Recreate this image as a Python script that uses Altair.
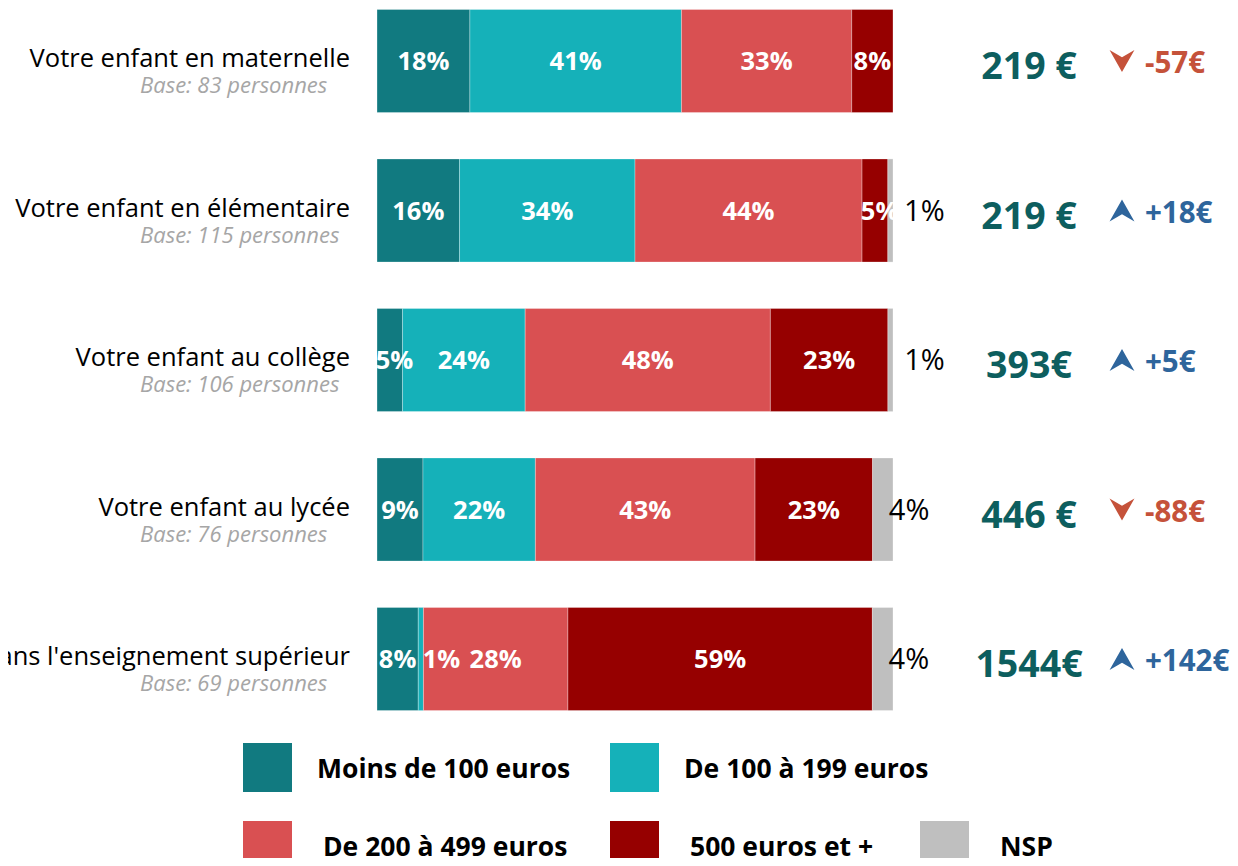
import altair as alt
import pandas as pd

# ---------------- data ----------------
rows = [
    "Votre enfant en maternelle",
    "Votre enfant en élémentaire",
    "Votre enfant au collège",
    "Votre enfant au lycée",
    "Votre enfant dans l'enseignement supérieur",
]
bases = [
    "Base: 83 personnes",
    "Base: 115 personnes",
    "Base: 106 personnes",
    "Base: 76 personnes",
    "Base: 69 personnes",
]
categories = ["Moins de 100 euros", "De 100 à 199 euros", "De 200 à 499 euros", "500 euros et +", "NSP"]
moins100 = [18, 16, 5, 9, 8]
de100 = [41, 34, 24, 22, 1]
de200 = [33, 44, 48, 43, 28]
plus500 = [8, 5, 23, 23, 59]
nsp = [0, 1, 1, 4, 4]
averages = ["219 €", "219 €", "393€", "446 €", "1544€"]
changes = [-57, 18, 5, -88, 142]

# ---------------- styles ----------------
FONT = "Open Sans"
colors = ["#117A80", "#15B1B9", "#D95052", "#960000", "#BFBFBF"]
AVG_COLOR = "#0D5E5E"
UP_COLOR = "#2E659C"
DOWN_COLOR = "#C5523A"

series = [moins100, de100, de200, plus500, nsp]
recs = []
for ri, r in enumerate(rows):
    for ci, c in enumerate(categories):
        recs.append({"row": r, "cat": c, "order": ci, "value": series[ci][ri]})
df = pd.DataFrame(recs)

rowdf = pd.DataFrame({"row": rows, "base": bases, "avg": averages, "change": changes})

xs = alt.Scale(domain=[0, 1], range=[369, 885])
ys = alt.Scale(domain=rows, range=[-21.75, 725.75], paddingInner=0.31, paddingOuter=0.155)
Y = alt.Y("row:N", scale=ys, axis=None)

stacked = (
    alt.Chart(df)
    .transform_joinaggregate(total="sum(value)", groupby=["row"])
    .transform_calculate(pct="datum.value / datum.total")
    .transform_stack(stack="pct", groupby=["row"], sort=[alt.SortField("order")], as_=["x0", "x1"])
    .transform_calculate(
        mid="datum.value < 3 && datum.cat != 'NSP' ? (datum.x0 + datum.x1) / 2 + 0.04 : "
            "max((datum.x0 + datum.x1) / 2, datum.x0 + 0.034)",
        label="datum.value + '%'",
    )
    .transform_filter("datum.value > 0")
)

bars = stacked.mark_rect(stroke="white", strokeWidth=0.5, strokeOpacity=0.6).encode(
    x=alt.X("x0:Q", scale=xs, axis=None),
    x2="x1:Q",
    y=Y,
    color=alt.Color("cat:N", scale=alt.Scale(domain=categories, range=colors), legend=None),
)

inner = stacked.transform_filter("datum.cat != 'NSP'").mark_text(
    font=FONT, fontSize=25.5, fontWeight="bold", color="white", baseline="alphabetic", dy=9
).encode(x=alt.X("mid:Q", scale=xs, axis=None), y=Y, text="label:N")

outer = stacked.transform_filter("datum.cat == 'NSP'").mark_text(
    font=FONT, fontSize=29, color="black", baseline="alphabetic", dy=10, dx=19
).encode(x=alt.X("mid:Q", scale=xs, axis=None), y=Y, text="label:N")

rlab = alt.Chart(rowdf)
main_lab = rlab.mark_text(
    font=FONT, fontSize=25.5, color="black", align="right", baseline="alphabetic", dy=6
).encode(x=alt.value(342), y=Y, text="row:N")
base_lab = rlab.mark_text(
    font=FONT, fontSize=22, fontStyle="italic", color="#A6A6A6", align="left", baseline="alphabetic", dy=32
).encode(x=alt.value(132), y=Y, text="base:N")
avg_lab = rlab.mark_text(
    font=FONT, fontSize=37.5, fontWeight="bold", color=AVG_COLOR, align="center", baseline="alphabetic", dy=18
).encode(x=alt.value(1021), y=Y, text="avg:N")

UP_PATH = "M0,-0.75 L0.85,0.75 L0,0.25 L-0.85,0.75 Z"
DOWN_PATH = "M0,0.75 L0.85,-0.75 L0,-0.25 L-0.85,-0.75 Z"
arrows = rlab.mark_point(filled=True, opacity=1, size=860, strokeWidth=0).encode(
    x=alt.value(1114),
    y=Y,
    shape=alt.condition("datum.change > 0", alt.value(UP_PATH), alt.value(DOWN_PATH)),
    color=alt.condition("datum.change > 0", alt.value(UP_COLOR), alt.value(DOWN_COLOR)),
)
chg_lab = rlab.transform_calculate(
    ctext="(datum.change > 0 ? '+' : '') + datum.change + '€'"
).mark_text(font=FONT, fontSize=29.5, fontWeight="bold", align="left", baseline="alphabetic", dy=12).encode(
    x=alt.value(1137),
    y=Y,
    text="ctext:N",
    color=alt.condition("datum.change > 0", alt.value(UP_COLOR), alt.value(DOWN_COLOR)),
)

# ---------------- custom legend ----------------
slots = [(0, 0), (1, 0), (0, 1), (1, 1), (2, 1)]
col_x = [235, 602, 912]
row_y = [735, 813]
text_gap = [25, 31]
legend_layers = []
for i, cat in enumerate(categories):
    c, r = slots[i]
    ld = alt.Chart(pd.DataFrame({"cat": [cat]}))
    legend_layers.append(
        ld.mark_rect().encode(
            x=alt.value(col_x[c]), x2=alt.value(col_x[c] + 49),
            y=alt.value(row_y[r]), y2=alt.value(row_y[r] + 49),
            color=alt.value(colors[i]),
        )
    )
    legend_layers.append(
        ld.mark_text(font=FONT, fontSize=26.5, fontWeight="bold", color="black", align="left", baseline="alphabetic").encode(
            x=alt.value(col_x[c] + 49 + text_gap[r]), y=alt.value(row_y[r] + 24 + 11), text="cat:N"
        )
    )

chart = alt.layer(
    bars, inner, outer, main_lab, base_lab, avg_lab, arrows, chg_lab, *legend_layers
).properties(
    width=1222, height=850, autosize=alt.AutoSizeParams(type="none"), padding=0
).configure(background="white", view=alt.ViewConfig(stroke=None))

chart.save("out.html", embed_options={"renderer": "svg", "actions": False})
